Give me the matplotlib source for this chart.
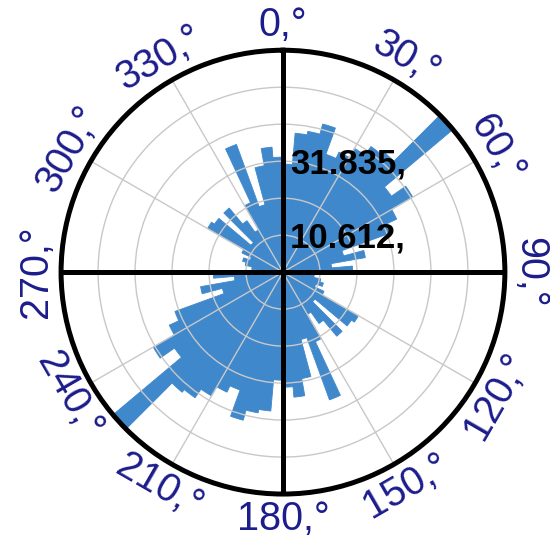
import numpy as np
import matplotlib
matplotlib.use("Agg")
from matplotlib import pyplot as plt

# 5 degree bins over half a circle; the rose is axial so the other half mirrors it
bin_width = 5
half_counts = [31, 40, 41, 44, 36, 38, 41, 44, 45, 63.5, 38, 43, 36, 33, 18, 24, 14, 20,
               7, 9, 11, 12, 10, 13, 25, 24, 12, 24, 18, 14, 22, 39, 20, 31, 36, 33]
ring_step = 10.612
ring_count = 6
ring_labels = ["10.612,", "31.835,"]
ring_label_values = [10.612, 31.835]
angle_ticks = list(range(0, 360, 30))
angle_labels = ["{},°".format(a) for a in angle_ticks]

counts = np.array(half_counts + half_counts)
edges = np.arange(0, 360, bin_width)
theta = np.radians(edges + bin_width / 2)
rmax = ring_step * ring_count
bar_color = "#3f88cc"

fig = plt.figure(figsize=(5.5, 5.52), dpi=100)
ax = fig.add_axes([0.111, 0.105, 0.807, 0.804], projection="polar")
ax.set_theta_zero_location("N")
ax.set_theta_direction(-1)

ax.bar(theta, counts, width=np.radians(bin_width), color=bar_color,
       edgecolor=bar_color, linewidth=0.6, zorder=1)

ax.set_ylim(0, rmax)
ax.set_yticks([ring_step * k for k in range(1, ring_count + 1)])
ax.set_yticklabels([])
ax.set_xticks(np.radians(angle_ticks))
ax.set_xticklabels([])
ax.grid(True, color="#c8c8c8", linewidth=1.0)
ax.spines["polar"].set_linewidth(3.6)
ax.spines["polar"].set_color("black")

# black cross through the centre
for a in (0, 90, 180, 270):
    ax.plot([np.radians(a), np.radians(a)], [0, rmax], color="black",
            linewidth=3.6, solid_capstyle="butt", zorder=4)

# angle labels, turned to follow the circle
label_r = rmax * 247 / 222
for a, txt in zip(angle_ticks, angle_labels):
    if 90 < a < 270:
        rot = 180 - a
    else:
        rot = -a
    ax.text(np.radians(a), label_r, txt, rotation=rot, rotation_mode="anchor",
            ha="center", va="center", fontsize=28.5, color="#1c1c8c",
            family=["Liberation Sans", "DejaVu Sans"], clip_on=False)

for v, txt in zip(ring_label_values, ring_labels):
    ax.annotate(txt, xy=(0, v), xytext=(7, -3), textcoords="offset pixels",
                ha="left", va="center", fontsize=25, fontweight="bold",
                color="black", family=["Liberation Sans", "DejaVu Sans"], zorder=5)

fig.savefig("out.png", dpi=100)
